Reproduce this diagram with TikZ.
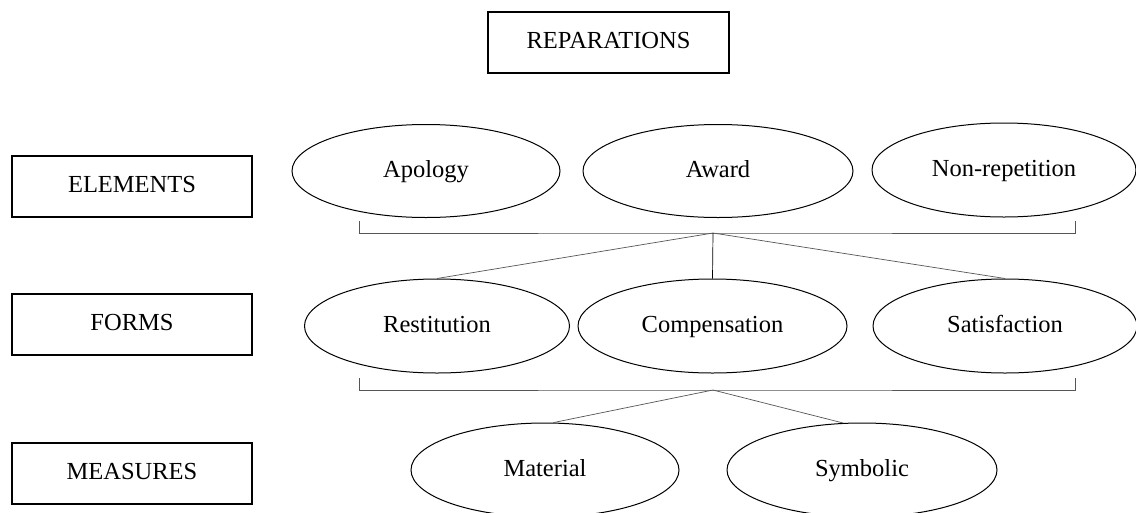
\documentclass[tikz,border=0pt]{standalone}
\usepackage{fontspec}
\setmainfont{Liberation Serif}
\usetikzlibrary{shapes.geometric,calc}
\definecolor{linegray}{HTML}{555555}
\tikzset{
  labelbox/.style={draw=black, line width=1.3pt, rectangle, minimum width=240pt, minimum height=61pt, inner sep=0pt, text height=17pt, text depth=5pt, font=\fontsize{24.5}{28}\selectfont},
  oval/.style={draw=black, line width=1pt, ellipse, inner sep=0pt, minimum height=94pt, text height=17pt, text depth=5pt, font=\fontsize{24.5}{28}\selectfont},
  conn/.style={draw=linegray, line width=0.7pt},
}
\begin{document}
\begin{tikzpicture}[x=1pt,y=-1pt]
\useasboundingbox (0,0) rectangle (1136,512);
\fill[white] (0,0) rectangle (1136,512);
% left label boxes
\node[labelbox, minimum width=241pt] (rep) at (608.5,42.5) {REPARATIONS};
\node[labelbox] (elem) at (132,186.5) {ELEMENTS};
\node[labelbox] (forms) at (132,324.5) {FORMS};
\node[labelbox] (meas) at (132,473.5) {MEASURES};
% elements
\node[oval, minimum width=268pt, minimum height=93pt] (apo) at (426,171) {Apology};
\node[oval, minimum width=270pt, minimum height=93pt] (award) at (718,171) {Award};
\node[oval, minimum width=264pt] (nonrep) at (1004,170) {Non-repetition};
% forms
\node[oval, minimum width=265pt] (rest) at (437,326) {Restitution};
\node[oval, minimum width=269pt] (comp) at (712.5,326) {Compensation};
\node[oval, minimum width=264pt] (sat) at (1005,326) {Satisfaction};
% measures
\node[oval, minimum width=268pt] (mat) at (545,470) {Material};
\node[oval, minimum width=270pt] (sym) at (862,470) {Symbolic};
% bracket 1
\coordinate (b1l) at (359,221);
\coordinate (b1r) at (1075,221);
\coordinate (b1) at (713,233);
\draw[conn] (b1l) |- (b1) -| (b1r);
\draw[conn] (b1) -- (rest.north);
\draw[conn, draw=black] (b1) -- (comp.north);
\draw[conn] (b1) -- (sat.north);
% bracket 2
\coordinate (b2l) at (359,378);
\coordinate (b2r) at (1075,378);
\coordinate (b2) at (713,390);
\draw[conn] (b2l) |- (b2) -| (b2r);
\draw[conn] (b2) -- (mat.80);
\draw[conn] (b2) -- (sym.112);
\end{tikzpicture}
\end{document}
